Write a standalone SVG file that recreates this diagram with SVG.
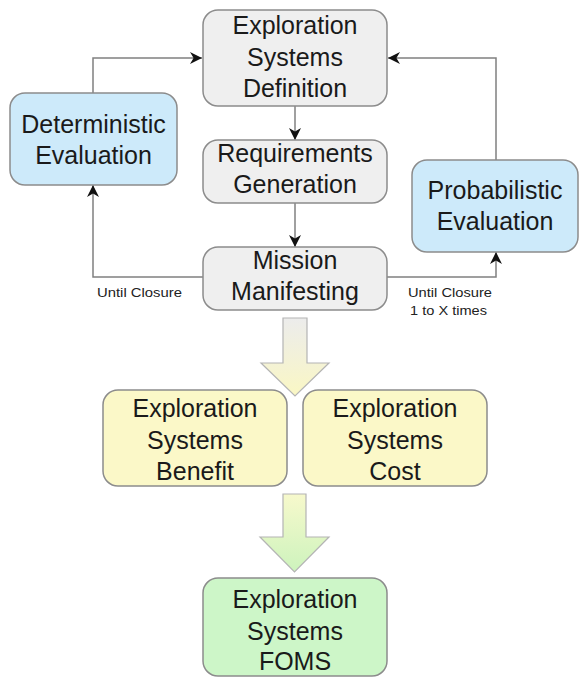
<svg xmlns="http://www.w3.org/2000/svg" width="579" height="681" viewBox="0 0 579 681">
<style>
.box{stroke:#8c8c8c;stroke-width:1.5}
.gray{fill:#efefef}
.blue{fill:#cdeafa}
.yellow{fill:#fbf8c8}
.green{fill:#cdf6c8}
.t{font-family:"Liberation Sans",Arial,sans-serif;font-size:25px;fill:#1a1a1a;text-anchor:middle}
.lbl{font-family:"Liberation Sans",Arial,sans-serif;font-size:13.5px;fill:#222}
.con{fill:none;stroke:#808080;stroke-width:1.5}
.blk{stroke:#b4b4b4;stroke-width:1.2}
</style>
<defs>
<marker id="ah" markerUnits="userSpaceOnUse" markerWidth="12" markerHeight="12" refX="10" refY="5" orient="auto" viewBox="0 0 10 10">
<path d="M0,0 L10,5 L0,10 L3,5 z" fill="#111"/>
</marker>
<linearGradient id="g1" x1="0" y1="0" x2="0" y2="1">
<stop offset="0" stop-color="#ececec"/>
<stop offset="1" stop-color="#faf7c4"/>
</linearGradient>
<linearGradient id="g2" x1="0" y1="0" x2="0" y2="1">
<stop offset="0" stop-color="#f7f9cc"/>
<stop offset="1" stop-color="#cdf3bd"/>
</linearGradient>
</defs>
<g id="connectors">
<path class="con" d="M295,106 V140" marker-end="url(#ah)"/>
<path class="con" d="M295,203 V247" marker-end="url(#ah)"/>
<path class="con" d="M203,277 H93 V185" marker-end="url(#ah)"/>
<path class="con" d="M93,93 V58 H202" marker-end="url(#ah)"/>
<path class="con" d="M387,277 H496 V252" marker-end="url(#ah)"/>
<path class="con" d="M496,160 V58 H388" marker-end="url(#ah)"/>
<polygon class="blk" fill="url(#g1)" points="283,318 307,318 307,363 329,363 295,396 261,363 283,363"/>
<polygon class="blk" fill="url(#g2)" points="283,494 306,494 306,537 329,537 294.5,572 260,537 283,537"/>
</g>
<g id="definition">
<rect class="box gray" x="203" y="10" width="184" height="96" rx="15"/>
<text class="t" x="295" y="34">Exploration</text>
<text class="t" x="295" y="66">Systems</text>
<text class="t" x="295" y="97">Definition</text>
</g>
<g id="requirements">
<rect class="box gray" x="203" y="140" width="184" height="63" rx="15"/>
<text class="t" x="295" y="162">Requirements</text>
<text class="t" x="295" y="193">Generation</text>
</g>
<g id="mission">
<rect class="box gray" x="203" y="247" width="184" height="63" rx="15"/>
<text class="t" x="295" y="269">Mission</text>
<text class="t" x="295" y="300">Manifesting</text>
</g>
<g id="deterministic">
<rect class="box blue" x="10" y="93" width="167" height="92" rx="15"/>
<text class="t" x="93.5" y="133">Deterministic</text>
<text class="t" x="93.5" y="164">Evaluation</text>
</g>
<g id="probabilistic">
<rect class="box blue" x="412" y="160" width="166" height="92" rx="15"/>
<text class="t" x="495" y="199">Probabilistic</text>
<text class="t" x="495" y="230">Evaluation</text>
</g>
<g id="benefit">
<rect class="box yellow" x="103" y="390" width="184" height="96" rx="15"/>
<text class="t" x="195" y="417">Exploration</text>
<text class="t" x="195" y="449">Systems</text>
<text class="t" x="195" y="480">Benefit</text>
</g>
<g id="cost">
<rect class="box yellow" x="303" y="390" width="184" height="96" rx="15"/>
<text class="t" x="395" y="417">Exploration</text>
<text class="t" x="395" y="449">Systems</text>
<text class="t" x="395" y="480">Cost</text>
</g>
<g id="foms">
<rect class="box green" x="203" y="578" width="184" height="98" rx="15"/>
<text class="t" x="295" y="608">Exploration</text>
<text class="t" x="295" y="640">Systems</text>
<text class="t" x="295" y="670">FOMS</text>
</g>
<g id="labels">
<text class="lbl" x="97" y="297" textLength="85" lengthAdjust="spacingAndGlyphs">Until Closure</text>
<text class="lbl" x="408" y="297" textLength="84" lengthAdjust="spacingAndGlyphs">Until Closure</text>
<text class="lbl" x="410" y="315" textLength="77" lengthAdjust="spacingAndGlyphs">1 to X times</text>
</g>
</svg>
